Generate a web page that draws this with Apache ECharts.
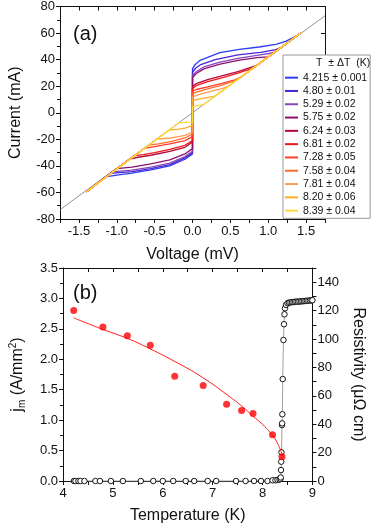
<!DOCTYPE html>
<html>
<head>
<meta charset="utf-8">
<script src="https://cdn.jsdelivr.net/npm/echarts@6/dist/echarts.min.js"></script>
<style>
html,body{margin:0;padding:0;background:#fff;}
#c{width:374px;height:526px;}
</style>
</head>
<body>
<div id="c"></div>
<script>
// ---------- Panel (a): I-V curves ----------
const tempLabels = ['4.215 \u00b1 0.001','4.80 \u00b1 0.01','5.29 \u00b1 0.02','5.75 \u00b1 0.02','6.24 \u00b1 0.03','6.81 \u00b1 0.02','7.28 \u00b1 0.05','7.58 \u00b1 0.04','7.81 \u00b1 0.04','8.20 \u00b1 0.06','8.39 \u00b1 0.04'];
const tempColors = ['#2b3cf6','#4a22d6','#8648b8','#8c0f6e','#b5073c','#f01515','#ff3d28','#ff6b2c','#ff9d50','#ffad24','#ffd93a'];

const curve4215 = [[-1.40,-59.5],[-1.15,-48.3],[-1.0,-47],[-0.8,-45.5],[-0.55,-43],[-0.3,-40],[-0.1,-35],[0,-31],[0,33],[0.03,36],[0.1,39.5],[0.36,45.2],[0.62,47.7],[0.88,49.5],[1.1,51.5],[1.23,53.7],[1.37,57.7],[1.43,60]];
const curve480 = [[-1.40,-59.5],[-1.1,-46.2],[-1.05,-45.5],[-0.8,-44.3],[-0.55,-42],[-0.3,-39],[-0.1,-34],[0,-30],[0,30.5],[0.04,33.5],[0.1,36],[0.3,40],[0.6,43.5],[0.9,45.5],[1.1,47.5],[1.17,49.1],[1.43,60]];
const curve529 = [[-1.40,-59.5],[-1.06,-44.5],[-0.8,-43.2],[-0.55,-41],[-0.3,-38],[-0.1,-33],[0,-29],[0,28],[0.05,31],[0.15,34.5],[0.35,38],[0.6,41],[0.85,43.2],[1.05,45],[1.1,46.2],[1.43,60]];
const curve575 = [[-1.40,-59.5],[-1.0,-42],[-0.8,-41],[-0.55,-38.5],[-0.3,-35.5],[-0.1,-31],[0,-27],[0,26.5],[0.05,29.5],[0.15,33],[0.35,36.5],[0.6,39.5],[0.85,41.5],[1.0,42],[1.43,60]];
const curve624 = [[-1.40,-59.5],[-0.83,-34.9],[-0.72,-33.5],[-0.55,-32],[-0.3,-29],[-0.1,-26],[0,-22],[0,19.7],[0.05,22],[0.2,25],[0.4,28],[0.6,31],[0.75,33.8],[0.85,35.7],[1.43,60]];
const curve681 = [[-1.40,-59.5],[-0.77,-32.3],[-0.65,-31.5],[-0.5,-30],[-0.3,-27.5],[-0.1,-24.5],[0,-21],[0,18],[0.05,20.5],[0.2,23.5],[0.4,26.5],[0.6,29.8],[0.8,33.6],[1.43,60]];
const curve728 = [[-1.40,-59.5],[-0.64,-26.9],[-0.5,-25.5],[-0.3,-23.5],[-0.1,-21],[0,-18],[0,16.2],[0.05,17.5],[0.2,19.5],[0.4,22.3],[0.55,24.5],[0.66,27.7],[1.43,60]];
const curve758 = [[-1.40,-59.5],[-0.58,-24.4],[-0.45,-23.5],[-0.3,-22],[-0.1,-19],[0,-16],[0,14.2],[0.05,15.5],[0.2,18],[0.4,21],[0.6,25.2],[1.43,60]];
const curve781 = [[-1.40,-59.5],[-0.47,-19.7],[-0.3,-19.2],[-0.1,-17],[0,-14.5],[0,11.7],[0.05,13],[0.2,15.5],[0.4,18.3],[0.48,20.2],[1.43,60]];
const curve820 = [[-1.40,-59.5],[-0.31,-13],[-0.2,-12.5],[-0.1,-11.5],[0,-9.5],[0,9.2],[0.05,9.8],[0.15,11],[0.3,12.6],[1.43,60]];
const curve839 = [[-1.40,-59.5],[-0.18,-7.6],[-0.1,-7.3],[0,-7],[0,4.2],[0.05,5],[0.15,6.3],[0.2,8.4],[1.43,60]];
const ivCurves = [curve4215,curve480,curve529,curve575,curve624,curve681,curve728,curve758,curve781,curve820,curve839];

const ohmicLine = [[-1.75,-73],[1.75,73]];

// ---------- Panel (b) ----------
const jmTemps = [4.215,4.80,5.29,5.75,6.24,6.81,7.28,7.58,7.81,8.20,8.39];
const jmValues = [2.80,2.53,2.385,2.23,1.72,1.57,1.26,1.16,1.11,0.76,0.40];

const fitTemps = [4.215,4.8,5.3,5.75,6.25,6.8,7.3,7.6,7.8,8.0,8.2,8.3,8.4];
const fitValues = [2.68,2.49,2.34,2.17,1.96,1.70,1.41,1.22,1.07,0.93,0.75,0.62,0.42];

const rhoTemps = [4.22,4.25,4.31,4.35,4.43,4.65,4.74,4.96,5.20,5.56,5.81,6.0,6.21,6.46,6.63,6.90,7.07,7.47,7.66,7.83,7.97,8.10,8.20,8.26,8.30,8.34,8.36,8.365,8.37,8.375,8.38,8.39,8.393,8.397,8.405,8.42,8.43,8.44,8.45,8.47,8.50,8.53,8.56,8.59,8.62,8.65,8.68,8.71,8.74,8.77,8.80,8.83,8.86,8.89,8.92,8.95,8.98,9.0];
const rhoValues = [0,0,0,0,0,0,0,0,0,0,0,0,0,0,0,0,0,0,0,0,0,0,0.5,0.5,0.8,1.0,1.5,2.5,7.7,13.6,20.2,39.4,40.6,47,71.8,99.3,110.4,117.4,121.6,124,125.2,125.6,125.8,126,126,126.2,126.3,126.3,126.4,126.5,126.6,126.7,126.8,126.9,127,127.1,127.2,127.3];

// ---------- build ----------
const FONT = '"Liberation Sans", Arial, sans-serif';
const chart = echarts.init(document.getElementById('c'), null, {renderer: 'canvas'});

const lbl = {fontFamily: FONT, fontSize: 13, color: '#111'};
const axLine = {show: true, onZero: false, lineStyle: {color: '#111', width: 1}};

const series = [];
series.push({
  type: 'line', xAxisIndex: 0, yAxisIndex: 0, data: ohmicLine, symbol: 'none',
  lineStyle: {color: '#777', width: 0.8}, silent: true, z: 1
});
ivCurves.forEach((c, i) => {
  series.push({
    name: tempLabels[i], type: 'line', xAxisIndex: 0, yAxisIndex: 0,
    data: c, symbol: 'none', color: tempColors[i],
    lineStyle: {color: tempColors[i], width: 1.3}, z: 2 + i
  });
});
series.push({
  type: 'line', xAxisIndex: 2, yAxisIndex: 3,
  data: rhoTemps.map((t, i) => [t, rhoValues[i]]),
  symbol: 'circle', symbolSize: 5.5, showSymbol: true, clip: false,
  itemStyle: {color: '#fff', borderColor: '#000', borderWidth: 0.9},
  lineStyle: {color: '#888', width: 0.8}, z: 3
});
series.push({
  type: 'line', xAxisIndex: 2, yAxisIndex: 2,
  data: fitTemps.map((t, i) => [t, fitValues[i]]),
  symbol: 'none', smooth: true,
  lineStyle: {color: '#ff1a1a', width: 1}, z: 4
});
series.push({
  type: 'scatter', xAxisIndex: 2, yAxisIndex: 2,
  data: jmTemps.map((t, i) => [t, jmValues[i]]),
  symbol: 'circle', symbolSize: 7,
  itemStyle: {color: '#ff0000'}, z: 5
});

const nameStyle = {fontFamily: FONT, fontSize: 16, color: '#111'};
const tick = {show: true, length: 4, lineStyle: {color: '#111'}};
const tickIn = {show: true, inside: true, length: 4, lineStyle: {color: '#111'}};

const option = {
  animation: false,
  backgroundColor: '#fff',
  grid: [
    {left: 57, top: 6, width: 268, height: 213},
    {left: 55, top: 268, width: 270, height: 213}
  ],
  xAxis: [
    {
      type: 'value', gridIndex: 0, min: -1.75, max: 1.75, interval: 0.25,
      axisLine: axLine, axisTick: tick,
      axisLabel: Object.assign({}, lbl, {margin: 6, formatter: v => (Math.abs(Math.round(v * 2) - v * 2) < 1e-6 ? v.toFixed(1) : '')}),
      splitLine: {show: false},
      name: 'Voltage (mV)', nameLocation: 'middle', nameGap: 28, nameTextStyle: nameStyle
    },
    {
      type: 'value', gridIndex: 0, position: 'top', min: -1.75, max: 1.75, interval: 0.25,
      axisLine: axLine, axisTick: tickIn,
      axisLabel: {show: false}, splitLine: {show: false}
    },
    {
      type: 'value', gridIndex: 1, min: 4, max: 9, interval: 0.5,
      axisLine: axLine, axisTick: tick,
      axisLabel: Object.assign({}, lbl, {margin: 6, formatter: v => (Math.abs(v - Math.round(v)) < 1e-6 ? String(v) : '')}),
      splitLine: {show: false},
      name: 'Temperature (K)', nameLocation: 'middle', nameGap: 27, nameTextStyle: nameStyle
    },
    {
      type: 'value', gridIndex: 1, position: 'top', min: 4, max: 9, interval: 0.5,
      axisLine: axLine, axisTick: tickIn,
      axisLabel: {show: false}, splitLine: {show: false}
    }
  ],
  yAxis: [
    {
      type: 'value', gridIndex: 0, min: -80, max: 80, interval: 20,
      axisLine: axLine, axisTick: tick,
      minorTick: {show: true, splitNumber: 2, length: 3, lineStyle: {color: '#111'}},
      axisLabel: Object.assign({}, lbl, {margin: 5}),
      splitLine: {show: false},
      name: 'Current (mA)', nameLocation: 'middle', nameGap: 36, nameTextStyle: nameStyle
    },
    {
      type: 'value', gridIndex: 0, position: 'right', min: -80, max: 80, interval: 20,
      axisLine: axLine, axisTick: tickIn,
      axisLabel: {show: false}, splitLine: {show: false}
    },
    {
      type: 'value', gridIndex: 1, min: 0, max: 3.5, interval: 0.5,
      axisLine: axLine, axisTick: tick,
      minorTick: {show: true, splitNumber: 2, length: 3, lineStyle: {color: '#111'}},
      axisLabel: Object.assign({}, lbl, {margin: 5, formatter: v => v.toFixed(1)}),
      splitLine: {show: false},
      name: '{i|j}{s|m}{i| (A/mm}{p|2}{i|)}', nameLocation: 'middle', nameGap: 36,
      nameTextStyle: {
        fontFamily: FONT, fontSize: 16, color: '#111',
        rich: {
          i: {fontFamily: FONT, fontSize: 16, color: '#111'},
          s: {fontFamily: FONT, fontSize: 10, color: '#111', padding: [9, 0, 0, 0]},
          p: {fontFamily: FONT, fontSize: 10, color: '#111', padding: [0, 0, 9, 0]}
        }
      }
    },
    {
      type: 'value', gridIndex: 1, position: 'right', min: 0, max: 150, interval: 10,
      axisLine: axLine, axisTick: tick,
      axisLabel: Object.assign({}, lbl, {margin: 5, formatter: v => (v % 20 === 0 && v < 150 ? String(v) : '')}),
      splitLine: {show: false},
      name: 'Resistivity (\u03bc\u03a9 cm)', nameLocation: 'middle', nameGap: 36, nameRotate: -90,
      nameTextStyle: nameStyle
    }
  ],
  legend: {
    data: tempLabels,
    orient: 'vertical', left: 283, top: 55,
    padding: [16, 3, 1, 2],
    icon: 'rect',
    itemWidth: 13, itemHeight: 2, itemGap: 0,
    backgroundColor: '#fff', borderColor: '#999', borderWidth: 1, borderRadius: 0,
    textStyle: {fontFamily: FONT, fontSize: 10.5, color: '#111', lineHeight: 13.3},
    selectedMode: false
  },
  graphic: [
    {type: 'text', left: 73, top: 24, style: {text: '(a)', fontFamily: FONT, fontSize: 20, fill: '#111'}},
    {type: 'text', left: 73, top: 283, style: {text: '(b)', fontFamily: FONT, fontSize: 20, fill: '#111'}},
    {type: 'text', left: 316, top: 58, z: 100, style: {text: 'T  \u00b1 \u0394T  (K)', fontFamily: FONT, fontSize: 10.5, fill: '#111'}}
  ],
  series: series
};
chart.setOption(option);
</script>
</body>
</html>
